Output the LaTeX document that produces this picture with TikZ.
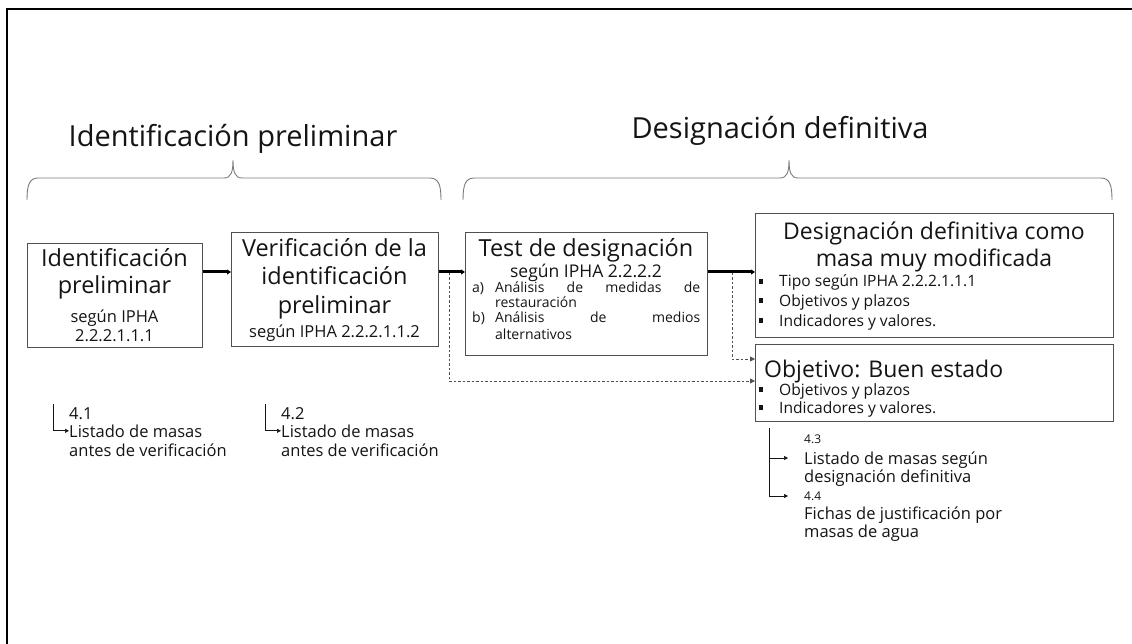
\documentclass[tikz,border=0pt]{standalone}
\usepackage{fontspec}
\setmainfont{Open Sans}
\usetikzlibrary{arrows.meta,calc}
\definecolor{ink}{HTML}{141414}
\definecolor{boxline}{HTML}{505050}
\definecolor{bracecol}{HTML}{7A7A7A}
\newcommand{\fsz}[2]{\fontsize{#1}{#2}\selectfont}
\newcommand{\bsq}{\rule[0.22em]{0.27em}{0.27em}}
\begin{document}
\begin{tikzpicture}[x=1pt,y=-1pt,
  txt/.style={inner sep=0pt, anchor=base, text=ink},
  txtw/.style={inner sep=0pt, anchor=base west, text=ink},
  boxnode/.style={draw=boxline, line width=1.1pt, inner sep=0pt, anchor=north west},
  mainarrow/.style={draw=black, line width=3pt, -{Triangle[length=4pt,width=5pt]}},
  dashconn/.style={draw=boxline, line width=0.8pt, dash pattern=on 2.5pt off 2pt, -{Triangle[length=5pt,width=5pt]}},
  annarrow/.style={draw=ink, line width=0.7pt, -{Triangle[length=4pt,width=4pt]}},
  bracestyle/.style={draw=bracecol, line width=0.9pt}
]
\path[use as bounding box] (0,0) rectangle (1132,644);
% frame
\draw[line width=2.6pt, black] (1134,9) -- (7,9) -- (7,646);

% titles
\node[txt, font=\fsz{29}{34}] (t1) at (233,147) {Identificación preliminar};
\node[txt, font=\fsz{29}{34}] (t2) at (780,139) {Designación definitiva};

% braces
\draw[bracestyle] (27,200) .. controls (27,186) and (29,178) .. (38,178) -- (224,178)
  .. controls (231,178) and (233,172) .. (233,160) .. controls (233,172) and (235,178) .. (242,178)
  -- (430,178) .. controls (439,178) and (441,186) .. (441,200);
\draw[bracestyle] (463,200) .. controls (463,186) and (465,178) .. (474,178) -- (780,178)
  .. controls (787,178) and (789,172) .. (789,160) .. controls (789,172) and (791,178) .. (798,178)
  -- (1101,178) .. controls (1110,178) and (1112,186) .. (1112,200);

% boxes
\node[boxnode, minimum width=175pt, minimum height=104pt] (b1) at (27,243) {};
\node[boxnode, minimum width=207pt, minimum height=114pt] (b2) at (231,232) {};
\node[boxnode, minimum width=242pt, minimum height=123pt] (b3) at (465,232) {};
\node[boxnode, minimum width=358pt, minimum height=124pt] (b4) at (755,213) {};
\node[boxnode, minimum width=358pt, minimum height=77pt] (b5) at (755,344) {};

% box 1 text
\node[txt, font=\fsz{23.5}{28}] (b1l1) at (114.5,267) {Identificación};
\node[txt, font=\fsz{23.5}{28}] (b1l2) at (114.5,294) {preliminar};
\node[txt, font=\fsz{16.5}{19}] (b1l3) at (114.5,323) {según IPHA};
\node[txt, font=\fsz{16.5}{19}] (b1l4) at (114.5,341) {2.2.2.1.1.1};

% box 2 text
\node[txt, font=\fsz{23.5}{28}] (b2l1) at (334.5,257) {Verificación de la};
\node[txt, font=\fsz{23.5}{28}] (b2l2) at (334.5,285) {identificación};
\node[txt, font=\fsz{23.5}{28}] (b2l3) at (334.5,313) {preliminar};
\node[txt, font=\fsz{16.5}{19}] (b2l4) at (334.5,337) {según IPHA 2.2.2.1.1.2};

% box 3 text
\node[txt, font=\fsz{23.5}{28}] (b3l1) at (586,257) {Test de designación};
\node[txt, font=\fsz{17.5}{20}] (b3l2) at (586,277) {según IPHA 2.2.2.2};
\node[txtw, font=\fsz{14}{16}] (b3a) at (472,292) {a)};
\node[txtw, font=\fsz{14}{16}] (b3a1) at (495,292) {\makebox[205pt][s]{Análisis de medidas de}};
\node[txtw, font=\fsz{14}{16}] (b3a2) at (495,307) {restauración};
\node[txtw, font=\fsz{14}{16}] (b3b) at (472,323) {b)};
\node[txtw, font=\fsz{14}{16}] (b3b1) at (495,323) {\makebox[205pt][s]{Análisis de medios}};
\node[txtw, font=\fsz{14}{16}] (b3b2) at (495,339) {alternativos};

% box 4 text
\node[txt, font=\fsz{23}{28}] (b4l1) at (934,240) {Designación definitiva como};
\node[txt, font=\fsz{23}{28}] (b4l2) at (934,267) {masa muy modificada};
\node[txtw, font=\fsz{15.6}{18}] (b4s1) at (759,287) {\bsq};
\node[txtw, font=\fsz{15.6}{18}] (b4i1) at (779,287) {Tipo según IPHA 2.2.2.1.1.1};
\node[txtw, font=\fsz{15.6}{18}] (b4s2) at (759,306) {\bsq};
\node[txtw, font=\fsz{15.6}{18}] (b4i2) at (779,306) {Objetivos y plazos};
\node[txtw, font=\fsz{15.6}{18}] (b4s3) at (759,326) {\bsq};
\node[txtw, font=\fsz{15.6}{18}] (b4i3) at (779,326) {Indicadores y valores.};

% box 5 text
\node[txtw, font=\fsz{23}{28}] (b5l1) at (764,377) {Objetivo: Buen estado};
\node[txtw, font=\fsz{15.6}{18}] (b5s1) at (759,395) {\bsq};
\node[txtw, font=\fsz{15.6}{18}] (b5i1) at (779,395) {Objetivos y plazos};
\node[txtw, font=\fsz{15.6}{18}] (b5s2) at (759,413) {\bsq};
\node[txtw, font=\fsz{15.6}{18}] (b5i2) at (779,413) {Indicadores y valores.};

% main connectors
\coordinate (row) at (0,272);
\draw[mainarrow] (b1.east |- row) -- (b2.west |- row);
\draw[mainarrow] (b2.east |- row) -- (b3.west |- row);
\draw[mainarrow] (b3.east |- row) -- (b4.west |- row);

% dashed connectors
\coordinate (d1) at (449,273);
\coordinate (d1end) at (0,381);
\draw[dashconn] (d1) |- (b5.west |- d1end);
\coordinate (d2) at (732,273);
\coordinate (d2end) at (0,359);
\draw[dashconn] (d2) |- (b5.west |- d2end);

% annotation 4.1
\node[txtw, font=\fsz{16.5}{19}] (n41) at (69,419) {4.1};
\node[txtw, font=\fsz{16.5}{19}] (n41a) at (69,437) {Listado de masas};
\node[txtw, font=\fsz{16.5}{19}] (n41b) at (69,456) {antes de verificación};
\coordinate (a1) at (53,404);
\draw[annarrow] (a1) |- (n41a.west);

% annotation 4.2
\node[txtw, font=\fsz{16.5}{19}] (n42) at (281,419) {4.2};
\node[txtw, font=\fsz{16.5}{19}] (n42a) at (281,437) {Listado de masas};
\node[txtw, font=\fsz{16.5}{19}] (n42b) at (281,456) {antes de verificación};
\coordinate (a2) at (265,404);
\draw[annarrow] (a2) |- (n42a.west);

% annotation 4.3 / 4.4
\node[txtw, font=\fsz{12}{14}] (n43) at (804,443) {4.3};
\node[txtw, font=\fsz{16.5}{19}] (n43a) at (804,464) {Listado de masas según};
\node[txtw, font=\fsz{16.5}{19}] (n43b) at (804,482) {designación definitiva};
\node[txtw, font=\fsz{12}{14}] (n44) at (804,500) {4.4};
\node[txtw, font=\fsz{16.5}{19}] (n44a) at (804,519) {Fichas de justificación por};
\node[txtw, font=\fsz{16.5}{19}] (n44b) at (804,537) {masas de agua};
\coordinate (a3) at (769,428);
\coordinate (a3t1) at (788,458);
\coordinate (a3t2) at (788,496);
\draw[annarrow] (a3) |- (a3t1);
\draw[annarrow] (a3) |- (a3t2);
\end{tikzpicture}
\end{document}
